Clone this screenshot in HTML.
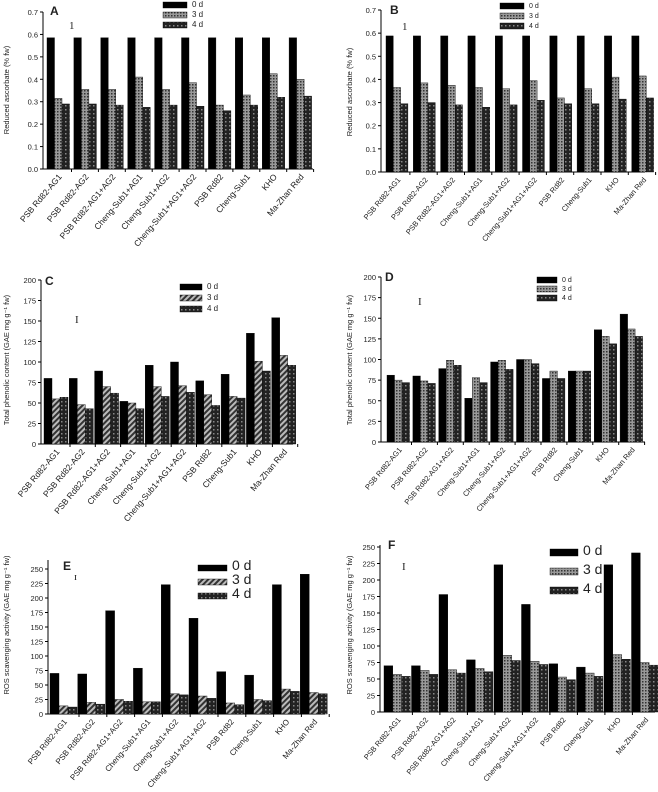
<!DOCTYPE html>
<html><head><meta charset="utf-8">
<style>
html,body{margin:0;padding:0;background:#fff;}
svg{display:block;font-family:"Liberation Sans",sans-serif;}
</style></head>
<body>
<svg id="fig" width="658" height="792" viewBox="0 0 658 792">
<defs>
<pattern id="p3" width="4" height="4" patternUnits="userSpaceOnUse" patternTransform="rotate(45)">
<rect width="4" height="4" fill="#bbb"/><rect width="2" height="4" fill="#333"/></pattern>
<pattern id="p4" width="4" height="4" patternUnits="userSpaceOnUse">
<rect width="4" height="4" fill="#222"/><rect x="1" y="1" width="1.5" height="1.5" fill="#888"/></pattern>
<pattern id="p3b" width="3" height="3" patternUnits="userSpaceOnUse">
<rect width="3" height="3" fill="#999"/><rect width="1.5" height="1.5" fill="#333"/></pattern>
</defs>
</svg>
<script>
const categoriesA = ["PSB Rd82-AG1","PSB Rd82-AG2","PSB Rd82-AG1+AG2","Cheng-Sub1+AG1","Cheng-Sub1+AG2","Cheng-Sub1+AG1+AG2","PSB Rd82","Cheng-Sub1","KHO","Ma-Zhan Red"];
const seriesNames = ["0 d","3 d","4 d"];
const A0 = [0.585,0.585,0.585,0.585,0.585,0.585,0.585,0.585,0.585,0.585];
const A3 = [0.315,0.355,0.355,0.41,0.355,0.385,0.285,0.33,0.425,0.40];
const A4 = [0.29,0.29,0.285,0.275,0.285,0.28,0.26,0.285,0.32,0.325];
const B0 = [0.588,0.588,0.588,0.588,0.588,0.588,0.588,0.588,0.588,0.588];
const B3 = [0.365,0.385,0.375,0.365,0.36,0.395,0.32,0.36,0.41,0.415];
const B4 = [0.295,0.30,0.29,0.28,0.29,0.31,0.295,0.295,0.315,0.32];
const C0 = [80,80,89,52,96,100,77,85,135,154];
const C3 = [55,48,70,50,70,71,60,58,101,108];
const C4 = [57,43,62,43,58,63,47,56,89,96];
const D0 = [81,80,89,53,97,100,77,86,136,155];
const D3 = [75,74,99,78,99,100,86,86,128,137];
const D4 = [72,71,93,72,88,95,77,86,119,128];
const E0 = [70,69,178,79,223,165,73,67,223,241];
const E3 = [14,20,25,21,35,31,19,25,43,37];
const E4 = [12,17,22,21,33,27,16,23,39,35];
const F0 = [70,70,178,79,223,163,73,68,223,241];
const F3 = [57,63,64,66,86,77,53,59,87,75];
const F4 = [54,57,59,61,78,72,49,54,80,71];
const ticksAB = ["0.0","0.1","0.2","0.3","0.4","0.5","0.6","0.7"];
const ticksCD = ["0","25","50","75","100","125","150","175","200"];
const ticksEF = ["0","25","50","75","100","125","150","175","200","225","250"];

const svg = document.getElementById('fig');
const NS = "http://www.w3.org/2000/svg";
function mk(tag, attrs, parent){const e=document.createElementNS(NS,tag);for(const k in attrs)e.setAttribute(k,attrs[k]);(parent||svg).appendChild(e);return e;}

function panel(cfg){
  const g = mk('g',{});
  
  
  const yOf = v => cfg.y0 - v/cfg.max*(cfg.y0-cfg.yTop);
  const xOf = i => cfg.x0 + i*cfg.sp;
  const ya = mk('line',{x1:cfg.ax,y1:cfg.axTop,x2:cfg.ax,y2:cfg.y0,stroke:'#000','stroke-width':1},g);
  
  
  const xa = mk('line',{x1:cfg.ax,y1:cfg.y0,x2:cfg.xEnd,y2:cfg.y0,stroke:'#000','stroke-width':1},g);
  
  
  cfg.ticks.forEach(t=>{
    const v=parseFloat(t), y=yOf(v);
    mk('line',{x1:cfg.ax-3,y1:y,x2:cfg.ax,y2:y,stroke:'#000'},g);
    const tx=mk('text',{x:cfg.ax-5,y:y+3,'text-anchor':'end','font-size':cfg.tfs,fill:'#222'},g);
    tx.textContent=t;
    
    
  });
  const fills=['#000',cfg.p3,'url(#p4)'];
  cfg.data.forEach((ser,s)=>{
    ser.forEach((v,i)=>{
      const x=xOf(i)+s*cfg.bw, y=yOf(v);
      const r=mk('rect',{x:x,y:y,width:cfg.bw,height:cfg.y0-y,fill:fills[s],stroke:'#000','stroke-width':0.4},g);
      
      
    });
  });
  categoriesA.forEach((c,i)=>{
    const cx=xOf(i)+cfg.bw*1.5;
    mk('line',{x1:xOf(i)+cfg.bw*3+2,y1:cfg.y0,x2:xOf(i)+cfg.bw*3+2,y2:cfg.y0+3,stroke:'#000'},g);
    const t=mk('text',{x:0,y:0,'text-anchor':'end','font-size':cfg.lfs,fill:'#222',
      transform:`translate(${cx+4},${cfg.y0+8}) rotate(-50)`},g);
    t.textContent=c;
    
    
  });
  const yt=mk('text',{x:0,y:0,'text-anchor':'middle','font-size':cfg.yfs,fill:'#222',
    transform:`translate(${cfg.ytx},${cfg.yty}) rotate(-90)`},g);
  yt.textContent=cfg.ytitle;
  
  
  const pl=mk('text',{x:cfg.lx,y:cfg.ly,'font-size':12,'font-weight':'bold',fill:'#222'},g);
  pl.textContent=cfg.id;
  
  
  const eb=mk('text',{x:cfg.ex,y:cfg.ey,'font-size':11,fill:'#222','font-family':'Liberation Serif'},g);
  eb.textContent=cfg.etext;
  
  
  seriesNames.forEach((n,s)=>{
    const y=cfg.legY+s*cfg.legDy;
    const sw=mk('rect',{x:cfg.legX,y:y,width:cfg.legW,height:cfg.legH,fill:fills[s],stroke:'#000','stroke-width':0.4},g);
    
    
    const lt=mk('text',{x:cfg.legX+cfg.legW+5,y:y+cfg.legH-1,'font-size':cfg.legFs,fill:'#222'},g);
    lt.textContent=n;
    
    
  });
}

panel({id:'A',data:[A0,A3,A4],max:0.7,ticks:ticksAB,ax:43,axTop:12,yTop:12,y0:169,xEnd:313,x0:47,sp:26.9,bw:7.5,
  tfs:7.5,lfs:8.5,yfs:7.5,ytitle:'Reduced ascorbate (% fw)',ytx:9,yty:90,lx:50,ly:15,ex:69,ey:29,etext:'1',
  p3:'url(#p3b)',legX:163,legY:2,legDy:10,legW:24,legH:6,legFs:8});
panel({id:'B',data:[B0,B3,B4],max:0.7,ticks:ticksAB,ax:381,axTop:10,yTop:10,y0:172,xEnd:645,x0:386,sp:27.3,bw:7.3,
  tfs:7.5,lfs:7.5,yfs:7.5,ytitle:'Reduced ascorbate (% fw)',ytx:352,yty:92,lx:390,ly:14,ex:402,ey:30,etext:'1',
  p3:'url(#p3b)',legX:500,legY:3,legDy:10,legW:24,legH:6,legFs:7});
panel({id:'C',data:[C0,C3,C4],max:200,ticks:ticksCD,ax:41,axTop:280,yTop:280,y0:444,xEnd:293,x0:44,sp:25.3,bw:8,
  tfs:7.5,lfs:8.5,yfs:7.5,ytitle:'Total phenolic content (GAE mg g⁻¹ fw)',ytx:9,yty:360,lx:45,ly:285,ex:75,ey:323,etext:'I',
  p3:'url(#p3)',legX:180,legY:284,legDy:11,legW:22,legH:6,legFs:8});
panel({id:'D',data:[D0,D3,D4],max:200,ticks:ticksCD,ax:381,axTop:277,yTop:277,y0:442,xEnd:645,x0:387,sp:25.9,bw:7.5,
  tfs:7.5,lfs:7.5,yfs:7.5,ytitle:'Total phenolic content (GAE mg g⁻¹ fw)',ytx:352,yty:360,lx:385,ly:281,ex:418,ey:305,etext:'I',
  p3:'url(#p3b)',legX:537,legY:277,legDy:9,legW:20,legH:6,legFs:7});
panel({id:'E',data:[E0,E3,E4],max:250,ticks:ticksEF,ax:48,axTop:560,yTop:569,y0:714,xEnd:325,x0:50,sp:27.8,bw:9,
  tfs:7.5,lfs:8,yfs:7.5,ytitle:'ROS scavenging activity (GAE mg g⁻¹ fw)',ytx:9,yty:625,lx:63,ly:570,ex:74,ey:580,etext:'ɪ',
  p3:'url(#p3)',legX:198,legY:565,legDy:14,legW:29,legH:6,legFs:14});
panel({id:'F',data:[F0,F3,F4],max:250,ticks:ticksEF,ax:380,axTop:545,yTop:547,y0:712,xEnd:655,x0:384,sp:27.5,bw:8.8,
  tfs:7.5,lfs:7.5,yfs:7.5,ytitle:'ROS scavenging activity (GAE mg g⁻¹ fw)',ytx:352,yty:625,lx:388,ly:549,ex:402,ey:570,etext:'I',
  p3:'url(#p3b)',legX:550,legY:549,legDy:19,legW:28,legH:7,legFs:14});
</script>
</body></html>
